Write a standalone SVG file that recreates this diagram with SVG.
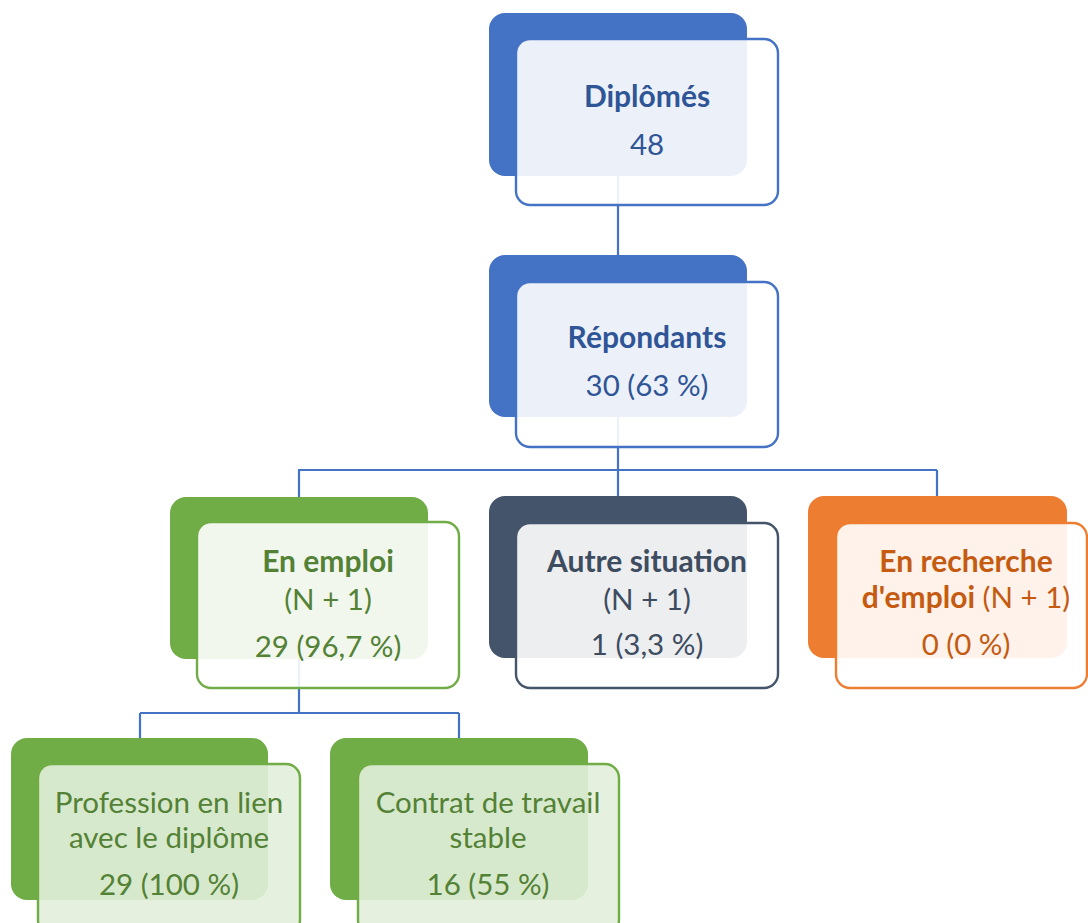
<svg xmlns="http://www.w3.org/2000/svg" width="1088" height="923" viewBox="0 0 1088 923">
<style>
.t{font-family:Lato,"Open Sans","Liberation Sans",sans-serif;font-size:29.5px;text-anchor:middle}
.b{font-weight:bold;font-size:30px}
.conn{stroke:#4472C4;stroke-width:2.2;fill:none}
.front{fill:#FFFFFF;fill-opacity:0.9;stroke-width:2.4}
.frontg{fill:#E2EFDA;fill-opacity:0.9;stroke:#70AD47;stroke-width:2.4}
.blue{fill:#4472C4}.blueS{stroke:#4472C4}.blueT{fill:#2F5597}
.green{fill:#70AD47}.greenS{stroke:#70AD47}.greenT{fill:#538135}
.slate{fill:#44546A}.slateS{stroke:#44546A}.slateT{fill:#3E4C60}
.orange{fill:#ED7D31}.orangeS{stroke:#ED7D31}.orangeT{fill:#C55A11}
</style>
<g id="connectors">
<path class="conn" d="M618 176V255M618 417V470M298 470H937M299 470V497M618 470V496M937 470V496M299 659V713M140 713H459M140 713V738M459 713V738"/>
</g>
<g id="n-diplomes">
<rect class="blue" x="489" y="13" width="258" height="163" rx="16"/>
<rect class="front blueS" x="516" y="39" width="262" height="166" rx="14"/>
<text class="t b blueT" x="647" y="107">Diplômés</text>
<text class="t blueT" x="647" y="155">48</text>
</g>
<g id="n-repondants">
<rect class="blue" x="489" y="255" width="258" height="162" rx="16"/>
<rect class="front blueS" x="516" y="282" width="262" height="165" rx="14"/>
<text class="t b blueT" x="647" y="348">Répondants</text>
<text class="t blueT" x="647" y="396">30 (63 %)</text>
</g>
<g id="n-emploi">
<rect class="green" x="170" y="497" width="258" height="162" rx="16"/>
<rect class="front greenS" x="197" y="522" width="262" height="166" rx="14"/>
<text class="t b greenT" x="328" y="572">En emploi</text>
<text class="t greenT" x="328" y="610">(N + 1)</text>
<text class="t greenT" x="328" y="657">29 (96,7 %)</text>
</g>
<g id="n-autre">
<rect class="slate" x="489" y="496" width="258" height="162" rx="16"/>
<rect class="front slateS" x="516" y="523" width="262" height="165" rx="14"/>
<text class="t b slateT" x="647" y="572">Autre situation</text>
<text class="t slateT" x="647" y="610">(N + 1)</text>
<text class="t slateT" x="647" y="655">1 (3,3 %)</text>
</g>
<g id="n-recherche">
<rect class="orange" x="808" y="496" width="259" height="162" rx="16"/>
<rect class="front orangeS" x="836" y="523" width="251" height="165" rx="14"/>
<text class="t b orangeT" x="966" y="572">En recherche</text>
<text class="t orangeT" x="966" y="608"><tspan class="b">d'emploi</tspan> (N + 1)</text>
<text class="t orangeT" x="966" y="655">0 (0 %)</text>
</g>
<g id="n-profession">
<rect class="green" x="11" y="738" width="257" height="162" rx="16"/>
<rect class="frontg" x="38" y="764" width="262" height="170" rx="14"/>
<text class="t greenT" x="169" y="813">Profession en lien</text>
<text class="t greenT" x="169" y="848">avec le diplôme</text>
<text class="t greenT" x="169" y="895">29 (100 %)</text>
</g>
<g id="n-contrat">
<rect class="green" x="330" y="738" width="258" height="162" rx="16"/>
<rect class="frontg" x="358" y="764" width="261" height="170" rx="14"/>
<text class="t greenT" x="488" y="813">Contrat de travail</text>
<text class="t greenT" x="488" y="848">stable</text>
<text class="t greenT" x="488" y="895">16 (55 %)</text>
</g>
</svg>
